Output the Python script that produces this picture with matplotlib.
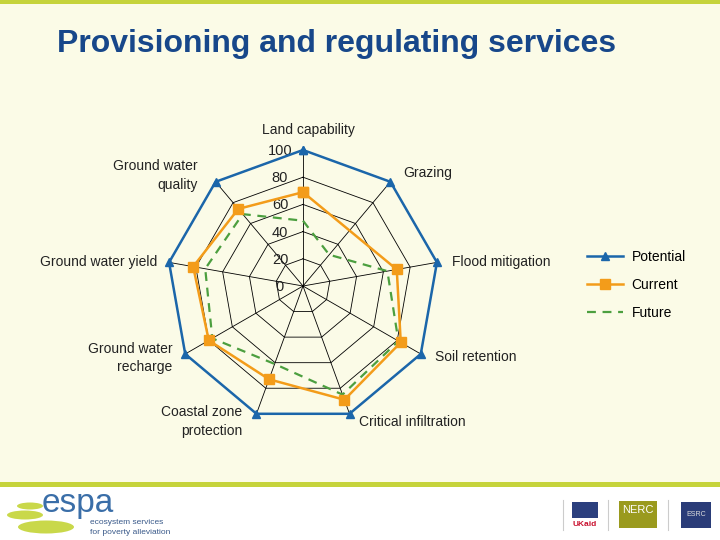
import numpy as np
import matplotlib
matplotlib.use('Agg')
from matplotlib import pyplot as plt
from matplotlib.patches import Rectangle, Ellipse

plt.rcParams['font.family'] = ['Liberation Sans', 'DejaVu Sans']

"""
    Data read off the slide
"""
categories = ['Land capability', 'Grazing', 'Flood mitigation', 'Soil retention',
              'Critical infiltration', 'Coastal zone\nprotection',
              'Ground water\nrecharge', 'Ground water yield', 'Ground water\nquality']
potential = [100, 100, 100, 100, 100, 100, 100, 100, 100]
current = [69, None, 70, 83, 89, 73, 80, 82, 74]   # no grazing value for current
future = [48, 30, 63, 81, 85, 61, 77, 73, 69]
grid_levels = [0, 20, 40, 60, 80, 100]

# label offsets from the outer vertex (pixels) and alignment
label_offsets = [(5, 20), (13, 9), (15, 0), (14, -3), (9, -8),
                 (-14, -8), (-13, -4), (-12, 0), (-18, 6)]
label_align = ['center', 'left', 'left', 'left', 'left',
               'right', 'right', 'right', 'right']

W, H = 720, 540


def fx(x):
    return x / W


def fy(y):
    return 1 - y / H


def closed(vals):
    pts = [(a, v) for a, v in zip(angles, vals) if v is not None]
    pts.append(pts[0])
    return [p[0] for p in pts], [p[1] for p in pts]


fig = plt.figure(figsize=(7.2, 5.4), dpi=100)
fig.patch.set_facecolor('white')

# slide background and green bars
green = '#c5d33b'
fig.patches.append(Rectangle((0, fy(484)), 1, 484 / H, transform=fig.transFigure,
                             facecolor='#fbfbe7', edgecolor='none', zorder=-10))
fig.patches.append(Rectangle((0, fy(4)), 1, 4 / H, transform=fig.transFigure,
                             facecolor=green, edgecolor='none', zorder=-9))
fig.patches.append(Rectangle((0, fy(487)), 1, 5 / H, transform=fig.transFigure,
                             facecolor=green, edgecolor='none', zorder=-9))

fig.text(fx(57), fy(44), 'Provisioning and regulating services', fontsize=23,
         fontweight='bold', color='#17478a', va='center', ha='left')

"""
    Radar chart
"""
angles = np.arange(len(categories)) * 2 * np.pi / len(categories)

ax = fig.add_axes([fx(167), fy(422), 272 / W, 272 / H], projection='polar')
ax.set_theta_zero_location('N')
ax.set_theta_direction(-1)
ax.set_ylim(0, 100)
ax.set_axis_off()

# polygon grid and spokes
for lvl in grid_levels[1:]:
    ax.plot(np.append(angles, angles[0]), [lvl] * (len(angles) + 1),
            color='black', lw=0.6, zorder=1, clip_on=False)
for a in angles:
    ax.plot([a, a], [0, 100], color='black', lw=0.6, zorder=1, clip_on=False)

for lvl in grid_levels:
    ax.annotate(str(lvl), xy=(0, lvl), xytext=(-23, -1), textcoords='offset pixels',
                ha='center', va='center', fontsize=10.5, color='#222222',
                annotation_clip=False)

th, r = closed(future)
ax.plot(th, r, color='#4c9f3f', lw=1.6, ls=(0, (4, 3)), label='Future',
        zorder=2, clip_on=False)
th, r = closed(current)
ax.plot(th, r, color='#f39c1a', lw=1.8, marker='s', ms=7, label='Current',
        zorder=3, clip_on=False)
th, r = closed(potential)
ax.plot(th, r, color='#1b66aa', lw=1.8, marker='^', ms=6, label='Potential',
        zorder=4, clip_on=False)

for i, name in enumerate(categories):
    ax.annotate(name, xy=(angles[i], potential[i]), xytext=label_offsets[i],
                textcoords='offset pixels', ha=label_align[i], va='center',
                multialignment=label_align[i], fontsize=10, linespacing=1.45,
                color='#222222', annotation_clip=False)

handles, labels = ax.get_legend_handles_labels()
order = [2, 1, 0]
fig.legend([handles[i] for i in order], [labels[i] for i in order],
           loc='center left', bbox_to_anchor=(fx(587), fy(285)), frameon=False,
           fontsize=10, handlelength=2.6, labelspacing=1.0, handletextpad=0.6,
           borderaxespad=0, borderpad=0)

"""
    Footer logos (rough)
"""
for cx, cy, w, h in [(30, 506, 26, 7), (25, 515, 36, 9), (46, 527, 56, 13)]:
    fig.patches.append(Ellipse((fx(cx), fy(cy)), w / W, h / H, transform=fig.transFigure,
                               facecolor='#c9d84a', edgecolor='none'))
fig.text(fx(42), fy(512), 'espa', fontsize=24, color='#3a6ea8', va='baseline', ha='left')
fig.text(fx(90), fy(522), 'ecosystem services', fontsize=6, color='#3a5a8a', va='center')
fig.text(fx(90), fy(532), 'for poverty alleviation', fontsize=6, color='#3a5a8a', va='center')

for x in [563, 608, 668]:
    fig.lines.append(plt.Line2D([fx(x), fx(x)], [fy(500), fy(530)], transform=fig.transFigure,
                                color='#cccccc', lw=0.8))
fig.patches.append(Rectangle((fx(572), fy(518)), 26 / W, 16 / H, transform=fig.transFigure,
                             facecolor='#2b3f7e', edgecolor='none'))
fig.text(fx(585), fy(525), 'UKaid', fontsize=6, color='#c8102e', ha='center', va='center',
         fontweight='bold')
fig.patches.append(Rectangle((fx(619), fy(528)), 38 / W, 27 / H, transform=fig.transFigure,
                             facecolor='#9a9a1e', edgecolor='none'))
fig.text(fx(638), fy(510), 'NERC', fontsize=8, color='white', ha='center', va='center')
fig.patches.append(Rectangle((fx(681), fy(528)), 30 / W, 26 / H, transform=fig.transFigure,
                             facecolor='#2a3c78', edgecolor='none'))
fig.text(fx(696), fy(515), 'ESRC', fontsize=5, color='#dddddd', ha='center', va='center')

fig.savefig('out.png', dpi=100)
